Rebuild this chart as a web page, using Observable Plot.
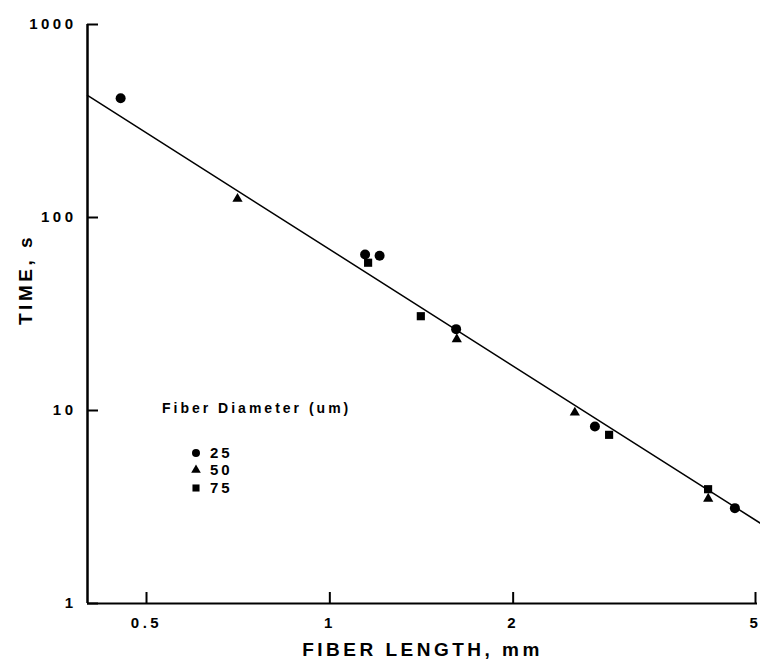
<!DOCTYPE html>
<html>
<head>
<meta charset="utf-8">
<script src="https://cdn.jsdelivr.net/npm/d3@7"></script>
<script src="https://cdn.jsdelivr.net/npm/@observablehq/plot@0.6"></script>
<style>
  html, body { margin: 0; padding: 0; background: #fff; }
  #wrap { position: relative; width: 760px; height: 664px; }
  #wrap svg text { letter-spacing: 3.5px; }
  #legend { position: absolute; left: 0; top: 0; pointer-events: none; }
</style>
</head>
<body>
<div id="wrap"></div>
<script>
// ---- data ----
const lengths   = [0.450, 0.700, 1.134, 1.198, 1.147, 1.400, 1.600, 1.604, 2.506, 2.704, 2.853, 4.148, 4.150, 4.590];
const times     = [415,   125,   64.3,  63.3,  58.3,  30.8,  26.4,  23.4,  9.76,  8.26,  7.48,  3.91,  3.49,  3.12];
const diameters = ["25",  "50",  "25",  "25",  "75",  "75",  "25",  "50",  "50",  "25",  "75",  "75",  "50",  "25"];

const fitLength = [0.397, 5.06];
const fitTime   = [429, 2.6];

const xDomain = [0.397, 5];
const yDomain = [1, 1000];
const xTicks = [0.5, 1, 2, 5];
const yTicks = [1, 10, 100, 1000];
const diameterLabels = ["25", "50", "75"];
const symbolNames = ["circle", "triangle", "square"];

const xTitle = "FIBER LENGTH, mm";
const yTitle = "TIME, s";
const legendTitle = "Fiber Diameter (um)";

// ---- tables ----
const points = lengths.map((L, i) => ({L, t: times[i], d: diameters[i]}));
const fit = fitLength.map((L, i) => ({L, t: fitTime[i]}));

const font = "'Liberation Sans', Arial, Helvetica, sans-serif";

const chart = Plot.plot({
  width: 760,
  height: 664,
  marginLeft: 87,
  marginRight: 3,
  marginTop: 24,
  marginBottom: 61,
  style: {fontFamily: font, fontSize: "15px", fontWeight: "bold", background: "#fff", color: "#000"},
  x: {type: "log", domain: xDomain},
  y: {type: "log", domain: yDomain},
  r: {type: "identity"},
  symbol: {domain: diameterLabels, range: symbolNames},
  marks: [
    Plot.axisX({ticks: xTicks, tickFormat: d => String(d), tickSize: -11, tickPadding: 25, label: null,
                strokeWidth: 2, fontSize: 15, fontWeight: "bold", dx: -2}),
    Plot.axisY({ticks: yTicks, tickFormat: d => String(d), tickSize: -11, tickPadding: 22, label: null,
                strokeWidth: 2, fontSize: 15, fontWeight: "bold"}),
    Plot.ruleX([xDomain[0]], {stroke: "#000", strokeWidth: 2.5}),
    Plot.ruleY([yDomain[0]], {stroke: "#000", strokeWidth: 2}),
    Plot.line(fit, {x: "L", y: "t", stroke: "#000", strokeWidth: 1.5}),
    Plot.dot(points, {x: "L", y: "t", symbol: "d", fill: "#000", stroke: "none",
                      r: d => d.d === "50" ? 3.8 : (d.d === "75" ? 4.6 : 5)}),
    Plot.text([xTitle], {frameAnchor: "bottom", dy: 46, fontSize: 19, fontWeight: "bold", lineAnchor: "middle"}),
    Plot.text([yTitle], {frameAnchor: "left", dx: -62, dy: 11, rotate: -90, fontSize: 19, fontWeight: "bold", lineAnchor: "middle"})
  ]
});

const wrap = document.getElementById("wrap");
wrap.appendChild(chart);

// ---- legend overlay ----
const leg = d3.select(wrap).append("svg")
  .attr("id", "legend").attr("width", 760).attr("height", 664)
  .style("font-family", font).style("font-weight", "bold");

leg.append("text")
  .attr("x", 162).attr("y", 413)
  .attr("font-size", 14)
  .style("letter-spacing", "3px")
  .text(legendTitle);

const legendSizes = {circle: 50, triangle: 40, square: 50};
const legendSymbols = {circle: d3.symbolCircle, triangle: d3.symbolTriangle, square: d3.symbolSquare};
const rows = [453, 470, 488];
diameterLabels.forEach((lab, i) => {
  const name = symbolNames[i];
  leg.append("path")
    .attr("transform", `translate(196,${rows[i]})`)
    .attr("d", d3.symbol(legendSymbols[name], legendSizes[name])())
    .attr("fill", "#000");
  leg.append("text")
    .attr("x", 210).attr("y", rows[i]).attr("dy", "0.36em")
    .attr("font-size", 15)
    .style("letter-spacing", "3px")
    .text(lab);
});
</script>
</body>
</html>
